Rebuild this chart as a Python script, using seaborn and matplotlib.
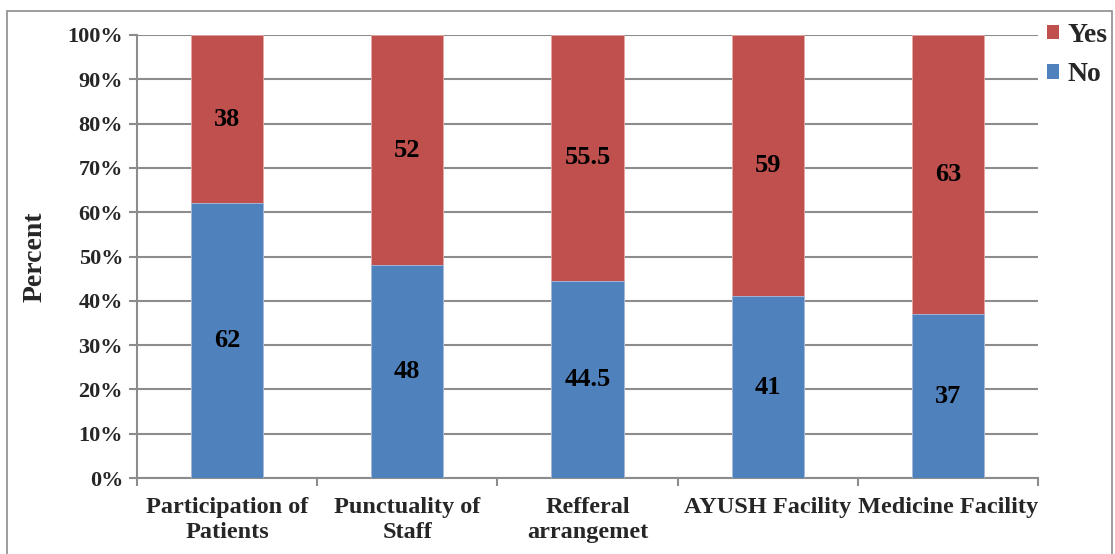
import matplotlib
matplotlib.use("Agg")
import matplotlib.pyplot as plt
import seaborn as sns
import pandas as pd
from matplotlib.patches import Rectangle, Patch
from matplotlib.ticker import FixedLocator, PercentFormatter

categories = ["Participation of\nPatients", "Punctuality of\nStaff", "Refferal\narrangemet",
              "AYUSH Facility", "Medicine Facility"]
no_values = [62, 48, 44.5, 41, 37]
yes_values = [38, 52, 55.5, 59, 63]
series_names = ["Yes", "No"]
yticks = [0, 10, 20, 30, 40, 50, 60, 70, 80, 90, 100]

RED = "#C0504D"
BLUE = "#4F81BD"
GRID = "#8C8C8C"

sns.set_theme(style="white")
plt.rcParams["font.family"] = ["Liberation Serif", "DejaVu Serif"]
plt.rcParams["font.weight"] = "bold"

df = pd.DataFrame({"category": categories, "No": no_values, "Yes": yes_values})
df["total"] = df["No"] + df["Yes"]

fig = plt.figure(figsize=(11.15, 5.54), dpi=100)
ax = fig.add_axes([137 / 1115, 1 - 478 / 554, (1038 - 137) / 1115, (478 - 35) / 554])

# outer frame around the whole chart
fig.patches.append(Rectangle((7 / 1115, -0.05), (1112 - 7) / 1115, 1.05 - 11 / 554,
                             transform=fig.transFigure, fill=False,
                             edgecolor="#8C8C8C", linewidth=1.2, zorder=0))

ax.set_axisbelow(True)
ax.yaxis.grid(True, color=GRID, linewidth=1.5)
ax.xaxis.grid(False)

sns.barplot(data=df, x="category", y="total", color=RED, width=0.4, ax=ax,
            saturation=1, edgecolor="#E8A8A6", linewidth=0.6, zorder=2)
sns.barplot(data=df, x="category", y="No", color=BLUE, width=0.4, ax=ax,
            saturation=1, edgecolor="#A8C0E0", linewidth=0.6, zorder=3)

for i, (n, y) in enumerate(zip(df["No"], df["Yes"])):
    ax.text(i, n / 2, f"{n:g}", ha="center", va="center", fontsize=19,
            fontweight="bold", color="black", zorder=4)
    ax.text(i, n + y / 2, f"{y:g}", ha="center", va="center", fontsize=19,
            fontweight="bold", color="black", zorder=4)

ax.set_xlim(-0.5, len(categories) - 0.5)
ax.set_ylim(0, 100)
ax.yaxis.set_major_locator(FixedLocator(yticks))
ax.yaxis.set_major_formatter(PercentFormatter(decimals=0))
ax.tick_params(axis="y", which="major", direction="out", length=6, width=1.5,
               color=GRID, labelsize=16, pad=4, left=True)
ax.tick_params(axis="x", which="major", length=0, labelsize=17.5, pad=14)
ax.xaxis.set_minor_locator(FixedLocator([i + 0.5 for i in range(-1, len(categories))]))
ax.tick_params(axis="x", which="minor", direction="out", length=6, width=1.5,
               color=GRID, bottom=True)
for lab in ax.get_xticklabels() + ax.get_yticklabels():
    lab.set_fontweight("bold")
    lab.set_linespacing(1.2)

ax.set_xlabel("")
ax.set_ylabel("Percent", fontsize=20, fontweight="bold", labelpad=14)

for side in ["top", "right"]:
    ax.spines[side].set_visible(False)
for side in ["left", "bottom"]:
    ax.spines[side].set_color(GRID)
    ax.spines[side].set_linewidth(1.5)

handles = [Patch(facecolor=RED, edgecolor="none"), Patch(facecolor=BLUE, edgecolor="none")]
fig.legend(handles, series_names, loc="upper left", bbox_to_anchor=(1047 / 1115, 1 - 23 / 554),
           frameon=False, borderpad=0, borderaxespad=0, handlelength=0.42, handleheight=0.42,
           handletextpad=0.3, labelspacing=0.52,
           prop={"family": "Liberation Serif", "weight": "bold", "size": 20})

fig.savefig("out.png", dpi=100)
